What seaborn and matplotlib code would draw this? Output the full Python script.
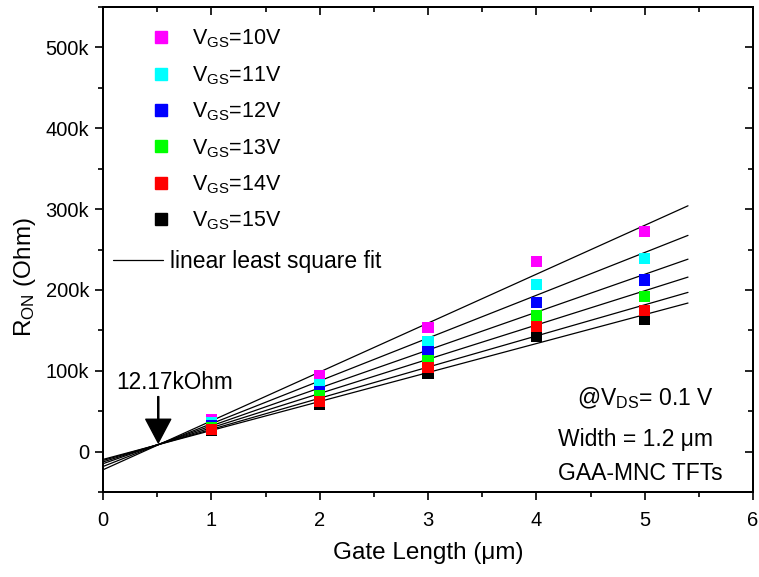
import numpy as np
import pandas as pd
import matplotlib
matplotlib.use("Agg")
import matplotlib.pyplot as plt
from matplotlib.lines import Line2D
import seaborn as sns

# ---- data ----
gate_length = [1, 2, 3, 4, 5]
vgs_labels = ["10V", "11V", "12V", "13V", "14V", "15V"]
r_10 = [40.2e3, 93.8e3, 153.6e3, 235.0e3, 272.0e3]
r_11 = [36.1e3, 83.1e3, 136.7e3, 207.2e3, 238.8e3]
r_12 = [32.8e3, 74.8e3, 123.5e3, 184.6e3, 212.2e3]
r_13 = [29.5e3, 69.1e3, 112.4e3, 168.6e3, 191.5e3]
r_14 = [27.6e3, 62.5e3, 103.9e3, 154.4e3, 174.2e3]
r_15 = [26.6e3, 58.8e3, 97.1e3, 142.5e3, 163.9e3]
series = [r_10, r_11, r_12, r_13, r_14, r_15]
colors = ["#FF00FF", "#00FFFF", "#0000FF", "#00FF00", "#FF0000", "#000000"]
fit_range = [0.0, 5.4]
x_ticks = [0, 1, 2, 3, 4, 5, 6]
y_ticks = [0, 100e3, 200e3, 300e3, 400e3, 500e3]
y_ticklabels = ["0", "100k", "200k", "300k", "400k", "500k"]

sns.set_style("ticks")
plt.rcParams["font.family"] = ["Liberation Sans", "DejaVu Sans"]
plt.rcParams["mathtext.fontset"] = "custom"
plt.rcParams["mathtext.rm"] = "Liberation Sans"
plt.rcParams["mathtext.it"] = "Liberation Sans"
plt.rcParams["mathtext.bf"] = "Liberation Sans"
for key in ["text.color", "axes.labelcolor", "xtick.color", "ytick.color",
            "axes.edgecolor"]:
    plt.rcParams[key] = "black"

W, H = 759, 577
fig = plt.figure(figsize=(W / 100, H / 100), dpi=100)
L, R, T, B = 103, 753, 7, 492
ax = fig.add_axes([L / W, 1 - B / H, (R - L) / W, (B - T) / H])

# long table; 15V drawn first so the others sit on top of it
rows = []
draw_order = [5, 0, 1, 2, 3, 4]
for i in draw_order:
    for x, y in zip(gate_length, series[i]):
        rows.append({"L": x, "R": y, "VGS": vgs_labels[i]})
df = pd.DataFrame(rows)
pal = dict(zip(vgs_labels, colors))

# linear least square fit lines
xf = np.array(fit_range)
for ys in series:
    k, b = np.polyfit(gate_length, ys, 1)
    ax.plot(xf, k * xf + b, color="black", lw=0.9, zorder=2)

sns.scatterplot(data=df, x="L", y="R", hue="VGS", palette=pal, marker="s",
                s=64, linewidth=0, legend=False, ax=ax, zorder=3)

ax.set_xlim(0, 6)
ax.set_ylim(-50e3, 550e3)
ax.set_xticks(x_ticks)
ax.set_xticks(np.arange(0.5, 6, 1.0), minor=True)
ax.set_yticks(y_ticks)
ax.set_yticklabels(y_ticklabels)
ax.set_yticks(np.arange(-50e3, 551e3, 100e3), minor=True)
ax.tick_params(axis="both", which="major", direction="out", length=6, width=1.2,
               labelsize=14.5)
ax.tick_params(axis="x", which="major", pad=8)
ax.tick_params(axis="y", which="major", pad=4)
ax.tick_params(axis="both", which="minor", direction="out", length=3.5, width=1.2)
for sp in ax.spines.values():
    sp.set_linewidth(1.3)

# top / right inward ticks
axt = ax.twiny()
axt.set_xlim(ax.get_xlim())
axt.set_xticks(x_ticks)
axt.set_xticks(np.arange(0.5, 6, 1.0), minor=True)
axt.tick_params(axis="x", which="major", direction="in", length=6, width=1.2, labeltop=False)
axt.tick_params(axis="x", which="minor", direction="in", length=3.5, width=1.2)
axr = ax.twinx()
axr.set_ylim(ax.get_ylim())
axr.set_yticks(y_ticks)
axr.set_yticks(np.arange(-50e3, 551e3, 100e3), minor=True)
axr.tick_params(axis="y", which="major", direction="in", length=6, width=1.2, labelright=False)
axr.tick_params(axis="y", which="minor", direction="in", length=3.5, width=1.2)
for a in (axt, axr):
    for sp in a.spines.values():
        sp.set_linewidth(1.3)

ax.set_xlabel("Gate Length (\u03bcm)", fontsize=17.5)
ax.set_ylabel(r"R$_{\mathrm{ON}}$ (Ohm)", fontsize=17.5)
ax.xaxis.set_label_coords(0.5, -0.103)
ax.yaxis.set_label_coords(-0.1, 0.443)

# legends
handles = [Line2D([], [], ls="none", marker="s", ms=8.5, mfc=c, mec=c)
           for c in colors]
labels = [r"V$_{\mathrm{GS}}$=" + v for v in vgs_labels]
leg1 = ax.legend(handles, labels, loc="upper left", bbox_to_anchor=(0.0728, 0.957),
                 frameon=False, fontsize=15.5, handlelength=1.0, handletextpad=0.95,
                 labelspacing=0.64, borderpad=0, borderaxespad=0)
ax.add_artist(leg1)
leg2 = ax.legend([Line2D([], [], color="black", lw=0.9)], ["linear least square fit"],
                 loc="upper left", bbox_to_anchor=(0.0154, 0.499), frameon=False,
                 fontsize=16.5, handlelength=2.18, handletextpad=0.31,
                 borderpad=0, borderaxespad=0)

# annotations
ax.annotate("", xy=(0.51, 10.8e3), xytext=(0.51, 68e3),
            arrowprops=dict(facecolor="black", edgecolor="black", width=0.8,
                            headwidth=18, headlength=17, shrink=0))
ax.text(0.665, 85.4e3, "12.17kOhm", fontsize=16.3, ha="center", va="center")
ax.text(0.835, 0.193, r"@V$_{\mathrm{DS}}$= 0.1 V", transform=ax.transAxes,
        fontsize=16.5, ha="center", va="center")
ax.text(0.82, 0.108, "Width = 1.2 \u03bcm", transform=ax.transAxes,
        fontsize=16.5, ha="center", va="center")
ax.text(0.826, 0.038, "GAA-MNC TFTs", transform=ax.transAxes,
        fontsize=16.5, ha="center", va="center")

fig.savefig("out.png", dpi=100)
